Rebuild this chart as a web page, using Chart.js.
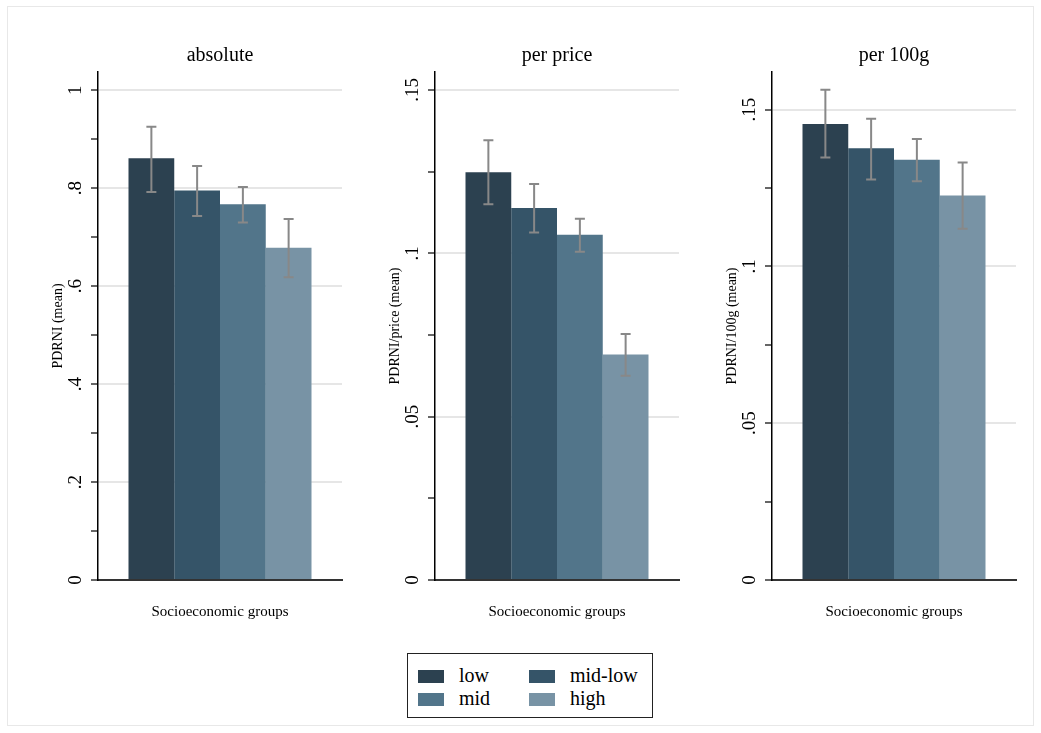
<!DOCTYPE html>
<html>
<head>
<meta charset="utf-8">
<script src="https://cdn.jsdelivr.net/npm/chart.js@4.4.1/dist/chart.umd.min.js"></script>
<style>
  html, body { margin: 0; padding: 0; background: #fff; }
  body { width: 1041px; height: 733px; position: relative; overflow: hidden; }
  #frame { position: absolute; left: 7px; top: 6px; width: 1027px; height: 720px; border: 1px solid #e8e8e8; box-sizing: border-box; }
  canvas.panel { position: absolute; top: 30px; }
  #legend { position: absolute; left: 407px; top: 653px; width: 246px; height: 65px; border: 1.5px solid #222; box-sizing: border-box; }
  .item { position: absolute; height: 20px; color: #000; }
  .sw { position: absolute; left: 0; top: 3px; width: 26px; height: 13px; }
  .lbl { position: absolute; left: 41px; top: -2px; white-space: nowrap; font-family: "Liberation Serif", "Times New Roman", serif; font-size: 20px; line-height: 20px; }
</style>
</head>
<body>
<div id="frame"></div>
<canvas id="c1" class="panel" width="320" height="600" style="left:30px"></canvas>
<canvas id="c2" class="panel" width="320" height="600" style="left:367px"></canvas>
<canvas id="c3" class="panel" width="320" height="600" style="left:704px"></canvas>
<div id="legend"></div>
<script>
// ---- data ----
const groups = ['low', 'mid-low', 'mid', 'high'];
const groupColors = ['#2c4150', '#355468', '#52758a', '#7893a5'];

const panelTitles = ['absolute', 'per price', 'per 100g'];
const yTitles = ['PDRNI (mean)', 'PDRNI/price (mean)', 'PDRNI/100g (mean)'];
const xTitle = 'Socioeconomic groups';

const absMean = [0.861, 0.795, 0.767, 0.678];
const absLow  = [0.792, 0.743, 0.730, 0.618];
const absHigh = [0.925, 0.845, 0.802, 0.737];

const priceMean = [0.1248, 0.1139, 0.1057, 0.0690];
const priceLow  = [0.1150, 0.1064, 0.1005, 0.0625];
const priceHigh = [0.1346, 0.1212, 0.1106, 0.0753];

const gramMean = [0.1454, 0.1377, 0.1340, 0.1226];
const gramLow  = [0.1347, 0.1277, 0.1272, 0.1120];
const gramHigh = [0.1563, 0.1471, 0.1406, 0.1331];

const absTickLabels   = ['0', '.2', '.4', '.6', '.8', '1'];
const priceTickLabels = ['0', '.05', '.1', '.15'];
const gramTickLabels  = ['0', '.05', '.1', '.15'];

const FONT = "'Liberation Serif', 'Times New Roman', serif";

function labelFor(v, labelStep, labels) {
  const k = v / labelStep;
  const r = Math.round(k);
  if (Math.abs(k - r) < 1e-6 && r < labels.length) return labels[r];
  return null;
}

const errorBarPlugin = {
  id: 'errorBars',
  afterDatasetsDraw(chart, args, opts) {
    const ctx = chart.ctx;
    const y = chart.scales.y;
    ctx.save();
    ctx.strokeStyle = '#888888';
    ctx.lineWidth = 2;
    chart.data.datasets.forEach((ds, i) => {
      const meta = chart.getDatasetMeta(i);
      const bar = meta.data[0];
      const x = bar.x;
      const yl = y.getPixelForValue(ds.errLow[0]);
      const yh = y.getPixelForValue(ds.errHigh[0]);
      ctx.beginPath();
      ctx.moveTo(x, yl); ctx.lineTo(x, yh);
      ctx.moveTo(x - 5, yl); ctx.lineTo(x + 5, yl);
      ctx.moveTo(x - 5, yh); ctx.lineTo(x + 5, yh);
      ctx.stroke();
    });
    ctx.restore();
  }
};

const tickLabelPlugin = {
  id: 'rotTicks',
  afterDraw(chart, args, opts) {
    const ctx = chart.ctx;
    const y = chart.scales.y;
    ctx.save();
    ctx.fillStyle = '#000';
    ctx.font = '19px ' + FONT;
    ctx.textAlign = 'center';
    ctx.textBaseline = 'middle';
    y.ticks.forEach(t => {
      const lab = labelFor(t.value, opts.labelStep, opts.labels);
      if (lab === null) return;
      const py = y.getPixelForValue(t.value);
      ctx.save();
      ctx.translate(y.right - 22, py);
      ctx.rotate(-Math.PI / 2);
      ctx.fillText(lab, 0, 0);
      ctx.restore();
    });
    ctx.restore();
  }
};

function makePanel(id, idx, means, lows, highs, yMax, step, labelStep, labels) {
  const datasets = groups.map((g, i) => ({
    label: g,
    data: [means[i]],
    errLow: [lows[i]],
    errHigh: [highs[i]],
    backgroundColor: groupColors[i],
    borderWidth: 0,
    categoryPercentage: 0.75,
    barPercentage: 1.0
  }));
  new Chart(document.getElementById(id), {
    type: 'bar',
    data: { labels: [''], datasets },
    plugins: [errorBarPlugin, tickLabelPlugin],
    options: {
      responsive: false,
      animation: false,
      devicePixelRatio: 1,
      layout: { padding: { left: 0, right: 8, top: 0, bottom: 0 } },
      plugins: {
        legend: { display: false },
        tooltip: { enabled: false },
        title: {
          display: true, text: panelTitles[idx], color: '#000',
          fullSize: false,
          font: { family: FONT, size: 20, weight: 'normal' },
          padding: { top: 14, bottom: 4 }
        },
        rotTicks: { labelStep, labels }
      },
      scales: {
        x: {
          grid: { display: false },
          border: { display: true, color: '#333', width: 2 },
          ticks: { display: false },
          title: {
            display: true, text: xTitle, color: '#000',
            font: { family: FONT, size: 15 },
            padding: { top: 0, bottom: 9 }
          },
          afterFit: s => { s.height = 50; }
        },
        y: {
          min: 0, max: yMax,
          ticks: { display: false, stepSize: step, includeBounds: false },
          grid: {
            color: c => (c.tick && labelFor(c.tick.value, labelStep, labels) !== null) ? '#e6e6e6' : 'rgba(0,0,0,0)',
            lineWidth: 2,
            tickColor: '#000',
            tickWidth: 1.2,
            tickLength: 7,
            drawOnChartArea: true
          },
          border: { display: true, color: '#000', width: 1.5 },
          title: {
            display: true, text: yTitles[idx], color: '#000',
            font: { family: FONT, size: 14 },
            padding: { top: 20, bottom: 0 }
          },
          afterFit: s => { s.width = 68; }
        }
      }
    }
  });
}

makePanel('c1', 0, absMean, absLow, absHigh, 1.037, 0.1, 0.2, absTickLabels);
makePanel('c2', 1, priceMean, priceLow, priceHigh, 0.1555, 0.025, 0.05, priceTickLabels);
makePanel('c3', 2, gramMean, gramLow, gramHigh, 0.162, 0.025, 0.05, gramTickLabels);

// ---- legend ----
const legend = document.getElementById('legend');
const pos = [[10, 13], [121, 13], [10, 36], [121, 36]];
groups.forEach((g, i) => {
  const it = document.createElement('div');
  it.className = 'item';
  it.style.left = pos[i][0] + 'px';
  it.style.top = pos[i][1] + 'px';
  const sw = document.createElement('div');
  sw.className = 'sw';
  sw.style.background = groupColors[i];
  const lb = document.createElement('div');
  lb.className = 'lbl';
  lb.textContent = g;
  it.appendChild(sw); it.appendChild(lb);
  legend.appendChild(it);
});
</script>
</body>
</html>
